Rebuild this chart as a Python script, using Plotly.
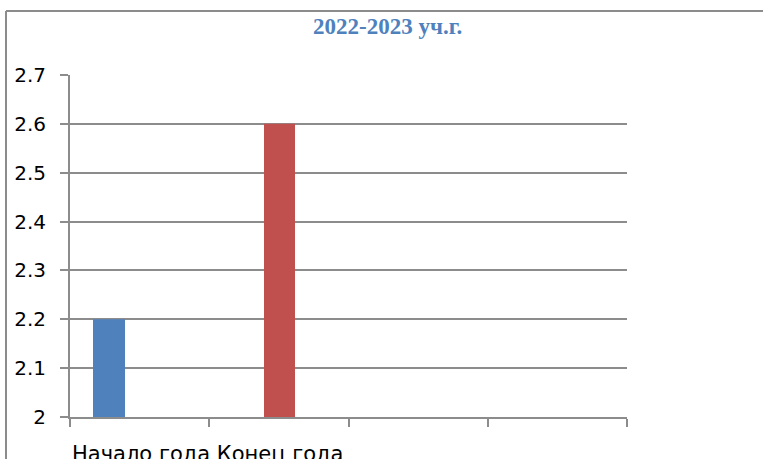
import plotly.graph_objects as go

categories = ["Начало года", "Конец года", "cat3", "cat4"]
start_values = [2.2]
end_values = [2.6]
y_ticks = [2, 2.1, 2.2, 2.3, 2.4, 2.5, 2.6, 2.7]
y_labels = ["2", "2.1", "2.2", "2.3", "2.4", "2.5", "2.6", "2.7"]
title_text = "2022-2023 уч.г."
bottom_text = "Начало года Конец года"

W, H = 763, 459
L, R, T, B = 70, 627, 75, 417
pw, ph = R - L, B - T
cw = pw / 4

def px(x):
    return (x - L) / pw

def py(y):
    return (B - y) / ph

fig = go.Figure()
fig.add_trace(go.Bar(x=[categories[0]], y=start_values, marker_color="#4F81BD",
                     marker_line_width=0, offset=(93 - (L + cw * 0.5)) / cw, width=32 / cw,
                     name="Начало года"))
fig.add_trace(go.Bar(x=[categories[1]], y=end_values, marker_color="#C0504D",
                     marker_line_width=0, offset=(264 - (L + cw * 1.5)) / cw, width=31 / cw,
                     name="Конец года"))

grid = "#8C8C8C"
frame = dict(color="#8C8C8C", width=2)
fig.update_layout(
    width=W, height=H,
    margin=dict(l=L, r=W - R, t=T, b=H - B, pad=0),
    paper_bgcolor="white", plot_bgcolor="white",
    barmode="overlay", showlegend=False,
    font=dict(family="DejaVu Sans, Arial, sans-serif", size=20, color="black"),
    xaxis=dict(type="category", categoryorder="array", categoryarray=categories,
               range=[-0.5, 3.5], tickson="boundaries", ticks="outside", ticklen=8,
               tickcolor=grid, tickwidth=2, showticklabels=False, showgrid=False,
               showline=True, linecolor=grid, linewidth=2, zeroline=False),
    yaxis=dict(range=[2, 2.7], tickvals=y_ticks, ticktext=y_labels, ticks="outside",
               ticklen=8, tickcolor=grid, tickwidth=2, showgrid=True, gridcolor=grid,
               gridwidth=2, showline=True, linecolor=grid, linewidth=2, zeroline=False,
               ticklabelstandoff=10),
    annotations=[
        dict(text="<b>" + title_text + "</b>", xref="paper", yref="paper",
             x=px(387), y=py(12), xanchor="center", yanchor="top",
             showarrow=False,
             font=dict(family="Liberation Serif, Times New Roman, serif", size=23, color="#4F81BD")),
        dict(text=bottom_text, xref="paper", yref="paper",
             x=px(70), y=py(440), xanchor="left", yanchor="top",
             showarrow=False, font=dict(size=21, color="black")),
    ],
    shapes=[
        dict(type="line", xref="paper", yref="paper", x0=px(6), x1=px(763),
             y0=py(11), y1=py(11), line=frame),
        dict(type="line", xref="paper", yref="paper", x0=px(6), x1=px(6),
             y0=py(11), y1=py(459), line=frame),
    ],
)

fig.write_html("out.html", config={"displayModeBar": False},
               post_script="document.body.style.margin='0px';document.body.style.overflow='hidden';")
